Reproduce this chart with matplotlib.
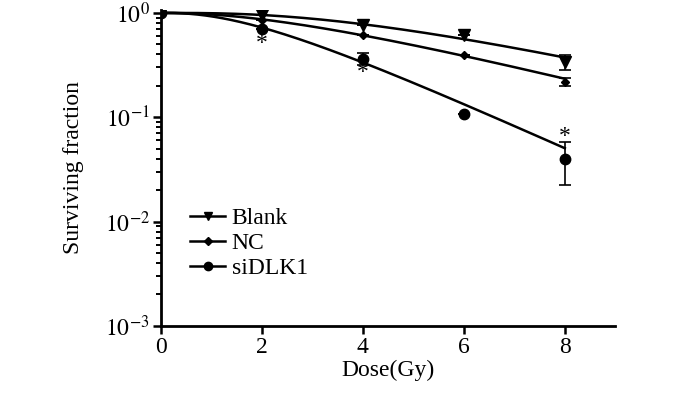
import numpy as np
import matplotlib.pyplot as plt

plt.rcParams['font.family'] = ['Liberation Serif', 'DejaVu Serif']
plt.rcParams['mathtext.fontset'] = 'stix'

dose = [0, 2, 4, 6, 8]
blank = [1.0, 0.946, 0.76, 0.61, 0.338]
blank_err = [0, 0, 0, 0, 0.055]
nc = [1.0, 0.85, 0.618, 0.392, 0.218]
nc_err = [0, 0, 0, 0, 0.02]
sidlk1 = [1.0, 0.706, 0.365, 0.108, 0.040]
sidlk1_err = [0, 0, 0.045, 0, 0.0175]
star_x = [2, 4, 8]
star_y = [0.51, 0.27, 0.065]


def mt_fit(x, y):
    # single-hit multi-target model S = 1 - (1 - exp(-D/D0))^N, least squares on S
    x = np.asarray(x, dtype=float)
    y = np.asarray(y, dtype=float)
    best = None
    for n in np.linspace(1, 15, 141):
        for d0 in np.linspace(0.5, 15, 291):
            s = 1 - (1 - np.exp(-x / d0)) ** n
            err = np.sum((s - y) ** 2)
            if best is None or err < best[0]:
                best = (err, n, d0)
    _, n, d0 = best
    xs = np.linspace(0, 8, 200)
    return xs, 1 - (1 - np.exp(-xs / d0)) ** n


fig = plt.figure(figsize=(7, 3.94), dpi=100)
ax = fig.add_axes([0.230, 0.173, 0.649, 0.802])

series = [
    ('Blank', blank, blank_err, 'v', 8),
    ('NC', nc, nc_err, 'D', 4.5),
    ('siDLK1', sidlk1, sidlk1_err, 'o', 7.5),
]
for name, vals, err, mk, ms in series:
    xs, ys = mt_fit(dose, vals)
    ax.plot(xs, ys, color='black', lw=1.8)
    ax.errorbar(dose, vals, yerr=err, fmt=mk, color='black', ms=ms,
                capsize=4, elinewidth=1.2, capthick=1.2)
    ax.plot([], [], color='black', lw=1.8, marker=mk, ms=ms * 0.8, label=name)

for sx, sy in zip(star_x, star_y):
    ax.text(sx, sy, '*', ha='center', va='center', fontsize=17)

ax.set_yscale('log')
ax.set_ylim(1e-3, 1.07)
ax.set_xlim(0, 9)
ax.set_xticks([0, 2, 4, 6, 8])
ax.set_yticks([1e-3, 1e-2, 1e-1, 1e0])
ax.set_yticklabels(['$10^{-3}$', '$10^{-2}$', '$10^{-1}$', '$10^{0}$'])

for side in ['top', 'right']:
    ax.spines[side].set_visible(False)
for side in ['left', 'bottom']:
    ax.spines[side].set_linewidth(2)

ax.tick_params(axis='both', which='major', length=6, width=1.8, labelsize=17, pad=2)
ax.tick_params(axis='y', which='minor', length=3.5, width=1.4)

ax.set_xlabel('Dose(Gy)', fontsize=17, labelpad=1)
ax.set_ylabel('Surviving fraction', fontsize=17, labelpad=15)

ax.legend(loc='upper left', bbox_to_anchor=(0.044, 0.405), frameon=False,
          fontsize=17, handlelength=1.45, handletextpad=0.3, labelspacing=0.15,
          borderaxespad=0)

fig.savefig('out.png', dpi=100)
